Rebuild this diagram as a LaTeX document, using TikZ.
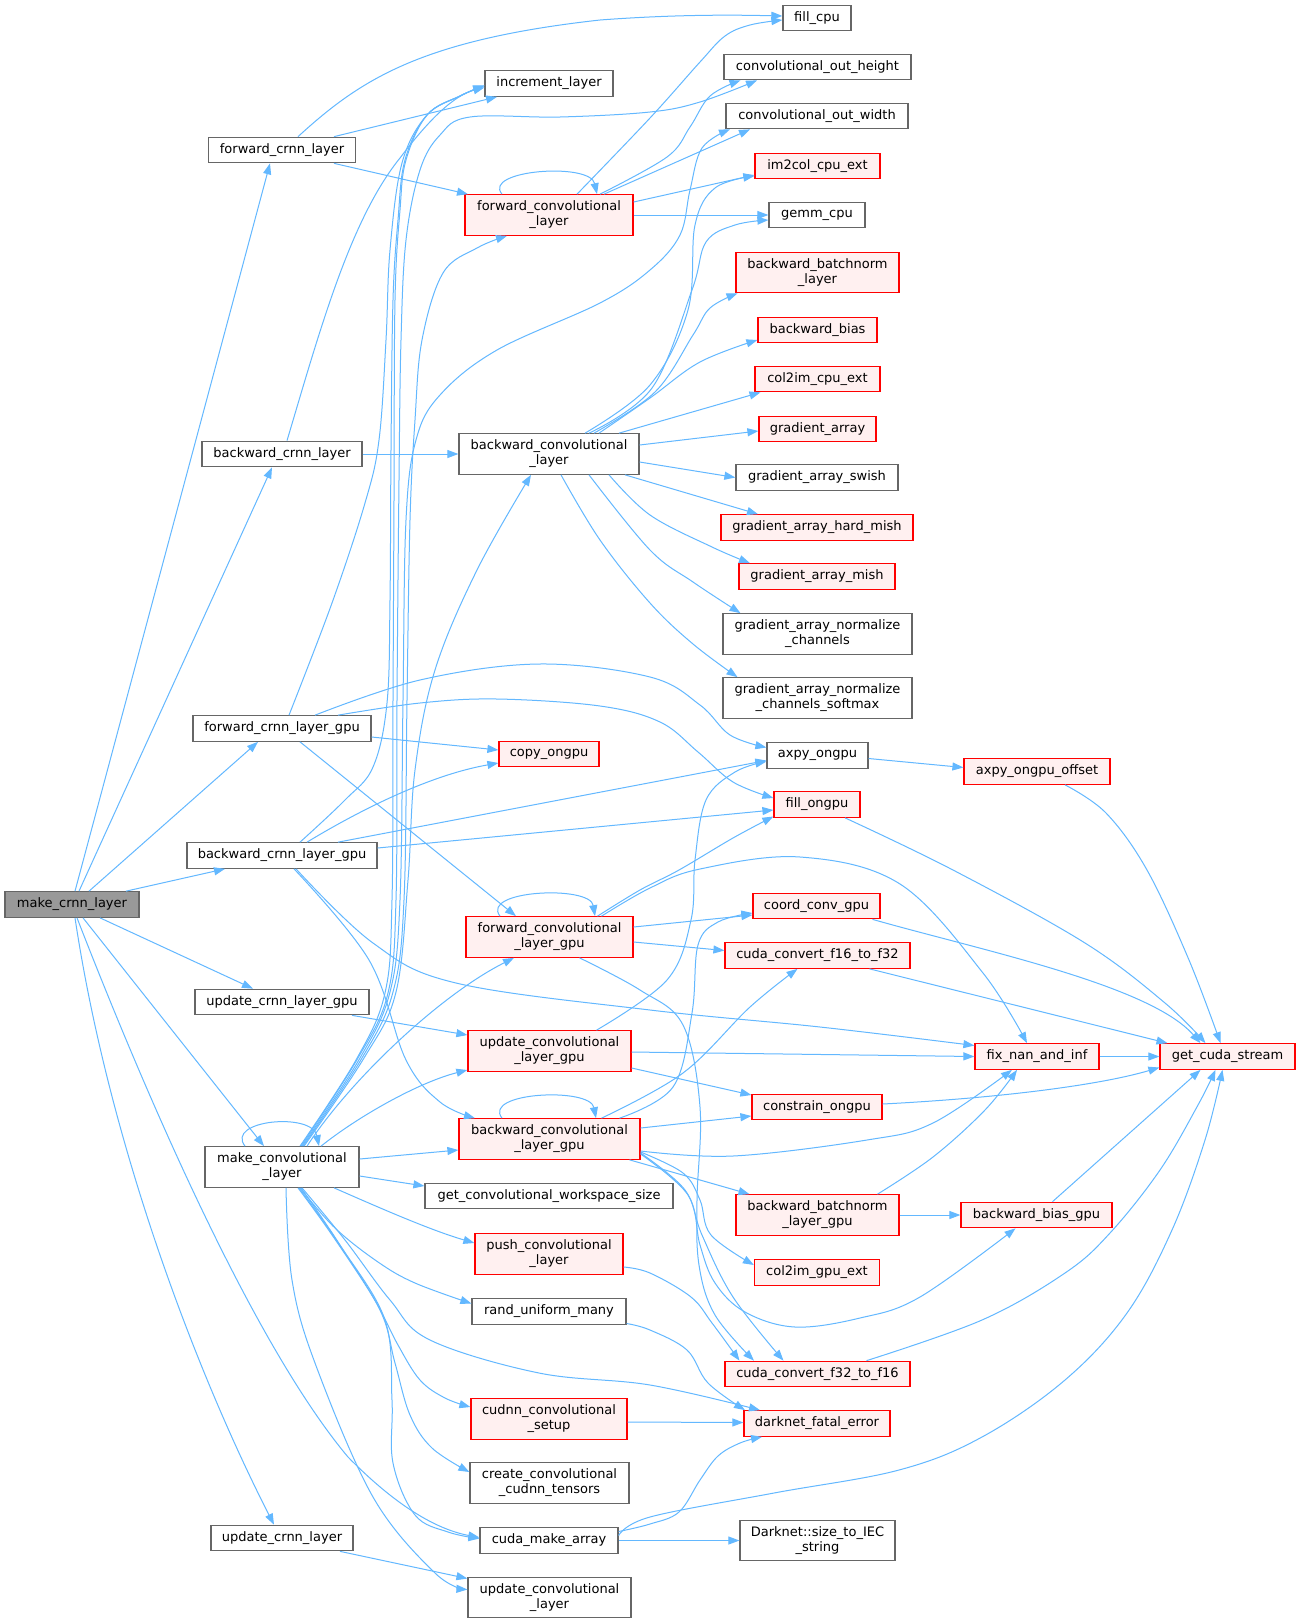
\documentclass[tikz,border=0pt]{standalone}
\usepackage{fontspec}
\setmainfont{DejaVu Sans}
\usetikzlibrary{arrows.meta,calc}
\definecolor{ngrey}{HTML}{666666}
\definecolor{pinkbg}{HTML}{FFF0F0}
\definecolor{rootgrey}{HTML}{999999}
\definecolor{eblue}{HTML}{63B8FF}
\tikzset{
 nd/.style={draw=ngrey, fill=white, line width=1.2pt, inner sep=0pt, minimum height=25.5pt, align=center, font=\fontsize{13}{15}\selectfont, text=black},
 rdn/.style={nd, draw=red, fill=pinkbg},
 rootn/.style={nd, fill=rootgrey},
 two/.style={minimum height=40.5pt},
 cl/.style={draw=eblue, line width=1pt, -{Triangle[length=11pt,width=8pt]}},
}
\begin{document}
\begin{tikzpicture}[x=1pt,y=-1pt]
\useasboundingbox (0,0) rectangle (1300,1623);
\fill[white] (0,0) rectangle (1300,1623);
% nodes
\node[rootn,minimum width=134pt] (M) at (72,904.5) {make\_crnn\_layer};
\node[nd,minimum width=147pt] (F) at (282,150) {forward\_crnn\_layer};
\node[nd,minimum width=160pt] (B) at (282,454) {backward\_crnn\_layer};
\node[nd,minimum width=178pt] (FG) at (282,728.5) {forward\_crnn\_layer\_gpu};
\node[nd,minimum width=190pt] (BG) at (282,855.5) {backward\_crnn\_layer\_gpu};
\node[nd,minimum width=174pt] (UG) at (282,1002) {update\_crnn\_layer\_gpu};
\node[nd,two,minimum width=154pt] (MC) at (282,1167) {make\_convolutional\\\_layer};
\node[nd,minimum width=142pt] (U) at (282,1538) {update\_crnn\_layer};
\node[nd,minimum width=128pt] (INC) at (549,83.5) {increment\_layer};
\node[rdn,two,minimum width=168pt] (FC) at (549,215) {forward\_convolutional\\\_layer};
\node[nd,two,minimum width=180pt] (BC) at (549,454) {backward\_convolutional\\\_layer};
\node[rdn,minimum width=100pt] (CP) at (549,754) {copy\_ongpu};
\node[rdn,two,minimum width=167pt] (FCG) at (549.5,937) {forward\_convolutional\\\_layer\_gpu};
\node[rdn,two,minimum width=163pt] (UCG) at (549.5,1051) {update\_convolutional\\\_layer\_gpu};
\node[rdn,two,minimum width=181pt] (BCG) at (549.5,1139) {backward\_convolutional\\\_layer\_gpu};
\node[nd,minimum width=248pt] (WS) at (549,1196) {get\_convolutional\_workspace\_size};
\node[rdn,two,minimum width=148pt] (PUSH) at (549,1254) {push\_convolutional\\\_layer};
\node[nd,minimum width=154pt] (RU) at (549,1311.5) {rand\_uniform\_many};
\node[rdn,two,minimum width=156pt] (CS) at (549,1419) {cudnn\_convolutional\\\_setup};
\node[nd,two,minimum width=159pt] (CT) at (549.5,1483) {create\_convolutional\\\_cudnn\_tensors};
\node[nd,minimum width=138pt] (CMA) at (549,1540.5) {cuda\_make\_array};
\node[nd,two,minimum width=163pt] (UCL) at (549.5,1597.5) {update\_convolutional\\\_layer};
\node[nd,minimum width=68pt] (FILL) at (817,18) {fill\_cpu};
\node[nd,minimum width=187pt] (OH) at (817.5,67) {convolutional\_out\_height};
\node[nd,minimum width=182pt] (OW) at (817,116) {convolutional\_out\_width};
\node[rdn,minimum width=125pt] (IM) at (817.5,166) {im2col\_cpu\_ext};
\node[nd,minimum width=96pt] (GEMM) at (817,215) {gemm\_cpu};
\node[rdn,two,minimum width=163pt] (BBN) at (817.5,272.5) {backward\_batchnorm\\\_layer};
\node[rdn,minimum width=119pt] (BB) at (817.5,330) {backward\_bias};
\node[rdn,minimum width=125pt] (C2I) at (817.5,379) {col2im\_cpu\_ext};
\node[rdn,minimum width=117pt] (GA) at (817.5,429) {gradient\_array};
\node[nd,minimum width=162pt] (GAS) at (817,477.5) {gradient\_array\_swish};
\node[rdn,minimum width=192pt] (GAH) at (817,527.5) {gradient\_array\_hard\_mish};
\node[rdn,minimum width=156pt] (GAM) at (817,576.5) {gradient\_array\_mish};
\node[nd,two,minimum width=189pt] (GAN) at (817.5,634) {gradient\_array\_normalize\\\_channels};
\node[nd,two,minimum width=189pt] (GANS) at (817.5,698) {gradient\_array\_normalize\\\_channels\_softmax};
\node[nd,minimum width=101pt] (AX) at (817.5,755.5) {axpy\_ongpu};
\node[rdn,minimum width=86pt] (FO) at (817,804.5) {fill\_ongpu};
\node[rdn,minimum width=127pt] (CC) at (816.5,906) {coord\_conv\_gpu};
\node[rdn,minimum width=185pt] (F16) at (817.5,955.5) {cuda\_convert\_f16\_to\_f32};
\node[rdn,minimum width=130pt] (CON) at (817,1107) {constrain\_ongpu};
\node[rdn,two,minimum width=163pt] (BBNG) at (817.5,1215) {backward\_batchnorm\\\_layer\_gpu};
\node[rdn,minimum width=125pt] (C2G) at (817,1272.5) {col2im\_gpu\_ext};
\node[rdn,minimum width=185pt] (F32) at (817.5,1374) {cuda\_convert\_f32\_to\_f16};
\node[rdn,minimum width=146pt] (DFE) at (817,1423.5) {darknet\_fatal\_error};
\node[nd,two,minimum width=155pt] (IEC) at (817.5,1540.5) {Darknet::size\_to\_IEC\\\_string};
\node[rdn,minimum width=146pt] (AXO) at (1037,771.5) {axpy\_ongpu\_offset};
\node[rdn,minimum width=124pt] (FIX) at (1037,1056.5) {fix\_nan\_and\_inf};
\node[rdn,minimum width=151pt] (BBG) at (1036.5,1215) {backward\_bias\_gpu};
\node[rdn,minimum width=135pt] (GCS) at (1227.5,1056.5) {get\_cuda\_stream};

% make_crnn_layer
\draw[cl] ($(M.north)+(3,0)$) -- ($(F.south)+(-12,0)$);
\draw[cl] ($(M.north)+(7,0)$) -- ($(B.south)+(-10,0)$);
\draw[cl] ($(M.north)+(17,0)$) -- ($(FG.south)+(-24,0)$);
\draw[cl] ($(M.north)+(54,0)$) -- ($(BG.south)+(-57,0)$);
\draw[cl] ($(M.south)+(28,0)$) -- ($(UG.north)+(-29,0)$);
\draw[cl] ($(M.south)+(11,0)$) -- ($(MC.north)+(-18,0)$);
\draw[cl] ($(M.south)+(3,0)$) .. controls (110,1150) and (200,1380) .. ($(U.north)+(-8,0)$);
\draw[cl] ($(M.south)+(5,0)$) .. controls (140,1080) and (250,1340) .. (348,1457) .. controls (400,1510) and (440,1530) .. ($(CMA.west)+(0,-3)$);

% forward_crnn_layer
\draw[cl] ($(F.north)+(16,0)$) .. controls (360,80) and (420,40) .. (600,20) .. controls (680,14) and (740,15) .. ($(FILL.west)+(0,-2)$);
\draw[cl] ($(F.north)+(52,0)$) -- ($(INC.south)+(-52,0)$);
\draw[cl] ($(F.south)+(52,0)$) -- ($(FC.north)+(-81,0)$);

% backward_crnn_layer
\draw[cl] ($(B.north)+(5,0)$) .. controls (320,330) and (350,220) .. (400,158) .. controls (430,118) and (455,95) .. ($(INC.west)+(0,4)$);
\draw[cl] (B.east) -- (BC.west);

% forward_crnn_layer_gpu
\draw[cl] plot[smooth,tension=0.6] coordinates {($(FG.north)+(7,0)$) (332,603) (365,503) (379,440) (386,340) (390,250) (402,163) (427,115) (460,96) ($(INC.west)+(0,2)$)};
\draw[cl] ($(FG.east)+(0,8.5)$) -- ($(CP.west)+(0,-4)$);
\draw[cl] plot[smooth,tension=0.6] coordinates {($(FG.north)+(33,0)$) (420,680) (539,664) (650,677) (700,705) (730,735) ($(AX.west)+(0,-8)$)};
\draw[cl] plot[smooth,tension=0.6] coordinates {($(FG.north)+(56,0)$) (420,703) (497,699) (600,706) (660,722) (698,752) (733,782) ($(FO.west)+(0,-6.5)$)};
\draw[cl] ($(FG.south)+(18,0)$) -- ($(FCG.north)+(-33.5,0)$);

% backward_crnn_layer_gpu
\draw[cl] plot[smooth,tension=0.6] coordinates {($(BG.north)+(18,0)$) (345,800) (373,767) (387,703) (390,600) (391,450) (393,300) (398,220) (405,160) (427,115) (460,96) ($(INC.west)+(0,2)$)};
\draw[cl] ($(BG.north)+(25,0)$) .. controls (360,810) and (430,775) .. ($(CP.west)+(0,9)$);
\draw[cl] ($(BG.north)+(56,0)$) -- ($(AX.west)+(0,5)$);
\draw[cl] ($(BG.east)+(0,-7.5)$) -- ($(FO.west)+(0,5.5)$);
\draw[cl] plot[smooth,tension=0.6] coordinates {($(BG.south)+(14,0)$) (373,943) (456,983) (650,1010) (820,1027) ($(FIX.west)+(0,-11)$)};
\draw[cl] plot[smooth,tension=0.6] coordinates {($(BG.south)+(12,0)$) (369,960) (406,1060) (440,1102) ($(BCG.north)+(-74.5,0)$)};

% update_crnn_layer_gpu
\draw[cl] ($(UG.south)+(70,0)$) -- ($(UCG.west)+(0,-16)$);

% make_convolutional_layer
\draw[cl] ($(MC.north)+(-37,0)$) .. controls (225,1120) and (312,1112) .. ($(MC.north)+(37,0)$);
\draw[cl] plot[smooth,tension=0.6] coordinates {($(MC.north)+(18,0)$) (356,1060) (385,993) (392,900) (393,700) (394,500) (395,300) (400,210) (406,160) (427,115) (460,96) ($(INC.west)+(0,2)$)};
\draw[cl] plot[smooth,tension=0.6] coordinates {($(MC.north)+(19,0)$) (358,1058) (388,993) (396,900) (397,700) (399,480) (401,340) (406,240) (420,170) (440,135) (470,117) (560,117) (650,112) (700,102) ($(OH.south)+(-60.5,0)$)};
\draw[cl] plot[smooth,tension=0.6] coordinates {($(MC.north)+(20,0)$) (360,1058) (390,992) (400,900) (403,700) (406,520) (416,440) (440,395) (497,350) (600,303) (650,270) (680,235) (690,190) (702,148) ($(OW.south)+(-87,0)$)};
\draw[cl] plot[smooth,tension=0.6] coordinates {($(MC.north)+(21,0)$) (362,1058) (393,992) (404,900) (407,700) (410,520) (415,420) (422,340) (443,273) (477,248) ($(FC.south)+(-42,0)$)};
\draw[cl] plot[smooth,tension=0.6] coordinates {($(MC.north)+(22,0)$) (364,1058) (396,992) (408,880) (415,770) (435,670) (477,570) ($(BC.south)+(-18,0)$)};
\draw[cl] ($(MC.north)+(25,0)$) .. controls (350,1080) and (440,995) .. ($(FCG.south)+(-35.5,0)$);
\draw[cl] ($(MC.north)+(39,0)$) .. controls (360,1115) and (420,1082) .. ($(UCG.west)+(0,19)$);
\draw[cl] ($(MC.east)+(0,-8)$) -- ($(BCG.west)+(0,11)$);
\draw[cl] ($(MC.east)+(0,9)$) -- ($(WS.west)+(0,-10)$);
\draw[cl] ($(MC.south)+(52,0)$) .. controls (380,1208) and (430,1230) .. ($(PUSH.west)+(0,-11)$);
\draw[cl] plot[smooth,tension=0.6] coordinates {($(MC.south)+(18,0)$) (335,1228) (378,1262) (415,1283) ($(RU.west)+(0,-8)$)};
\draw[cl] plot[smooth,tension=0.6] coordinates {($(MC.south)+(16,0)$) (330,1232) (373,1297) (398,1345) (420,1380) (445,1398) ($(CS.west)+(0,-12)$)};
\draw[cl] plot[smooth,tension=0.6] coordinates {($(MC.south)+(17,0)$) (335,1238) (380,1310) (395,1363) (410,1415) (432,1448) ($(CT.west)+(0,-11)$)};
\draw[cl] plot[smooth,tension=0.6] coordinates {($(MC.south)+(19,0)$) (340,1245) (385,1320) (392,1400) (393,1463) (415,1515) (448,1532) ($(CMA.west)+(0,-2)$)};
\draw[cl] plot[smooth,tension=0.6] coordinates {($(MC.south)+(4,0)$) (292,1280) (315,1363) (373,1497) (435,1573) ($(UCL.west)+(0,-8)$)};
\draw[cl] plot[smooth,tension=0.6] coordinates {($(MC.south)+(20,0)$) (345,1240) (390,1300) (430,1340) (539,1373) (650,1385) ($(DFE.north)+(-57,0)$)};

% update_crnn_layer
\draw[cl] ($(U.south)+(58,0)$) -- ($(UCL.west)+(0,-19)$);

% forward_convolutional_layer
\draw[cl] ($(FC.north)+(-47,0)$) .. controls (482,170) and (590,162) .. ($(FC.north)+(48,0)$);
\draw[cl] plot[smooth,tension=0.6] coordinates {($(FC.north)+(28,0)$) (650,118) (700,62) (725,36) (750,25) ($(FILL.west)+(0,2)$)};
\draw[cl] plot[smooth,tension=0.6] coordinates {($(FC.north)+(51,0)$) (667,157) (690,127) (710,96) ($(OH.south)+(-77,0)$)};
\draw[cl] ($(FC.north)+(55,0)$) -- ($(OW.south)+(-67,0)$);
\draw[cl] ($(FC.east)+(0,-13)$) -- ($(IM.west)+(0,9)$);
\draw[cl] (FC.east) -- (GEMM.west);

% backward_convolutional_layer
\draw[cl] plot[smooth,tension=0.6] coordinates {($(BC.north)+(36,0)$) (650,385) (688,310) (695,225) (715,188) ($(IM.west)+(0,10)$)};
\draw[cl] plot[smooth,tension=0.6] coordinates {($(BC.north)+(40,0)$) (652,388) (692,290) (706,242) (735,225) ($(GEMM.west)+(0,5)$)};
\draw[cl] plot[smooth,tension=0.6] coordinates {($(BC.north)+(45,0)$) (655,392) (693,335) (710,308) ($(BBN.south)+(-80,0)$)};
\draw[cl] plot[smooth,tension=0.6] coordinates {($(BC.north)+(50,0)$) (650,398) (700,362) ($(BB.west)+(0,10)$)};
\draw[cl] ($(BC.north)+(70,0)$) -- ($(C2I.south)+(-57,0)$);
\draw[cl] ($(BC.east)+(0,-9)$) -- ($(GA.west)+(0,2)$);
\draw[cl] ($(BC.east)+(0,8)$) -- (GAS.west);
\draw[cl] ($(BC.south)+(76,0)$) -- ($(GAH.north)+(-59,0)$);
\draw[cl] plot[smooth,tension=0.6] coordinates {($(BC.south)+(60,0)$) (650,515) (712,547) ($(GAM.north)+(-67,0)$)};
\draw[cl] plot[smooth,tension=0.6] coordinates {($(BC.south)+(40,0)$) (650,550) (693,582) ($(GAN.north)+(-77,0)$)};
\draw[cl] plot[smooth,tension=0.6] coordinates {($(BC.south)+(12,0)$) (600,540) (650,603) (693,644) ($(GANS.north)+(-80,0)$)};

% forward_convolutional_layer_gpu
\draw[cl] ($(FCG.north)+(-49.5,0)$) .. controls (480,890) and (590,885) .. ($(FCG.north)+(45.5,0)$);
\draw[cl] plot[smooth,tension=0.6] coordinates {($(FCG.north)+(48,0)$) (640,890) (679,870) (733,838) ($(FO.west)+(0,12)$)};
\draw[cl] plot[smooth,tension=0.6] coordinates {($(FCG.north)+(52,0)$) (650,888) (700,869) (800,857) (900,884) (983,973) ($(FIX.north)+(-10,0)$)};
\draw[cl] ($(FCG.east)+(0,-10)$) -- ($(CC.west)+(0,9)$);
\draw[cl] ($(FCG.east)+(0,5)$) -- ($(F16.west)+(0,-5)$);
\draw[cl] plot[smooth,tension=0.6] coordinates {($(FCG.south)+(30,0)$) (640,990) (683,1025) (700,1107) (697,1200) (699,1265) (715,1315) ($(F32.north)+(-63.5,0)$)};

% update_convolutional_layer_gpu
\draw[cl] plot[smooth,tension=0.6] coordinates {($(UCG.north)+(47,0)$) (667,980) (691,920) (695,860) (706,800) (735,772) ($(AX.west)+(0,6)$)};
\draw[cl] ($(UCG.east)+(0,1)$) -- (FIX.west);
\draw[cl] ($(UCG.east)+(0,17)$) -- ($(CON.west)+(0,-12)$);

% backward_convolutional_layer_gpu
\draw[cl] ($(BCG.north)+(-47.5,0)$) .. controls (482,1092) and (590,1087) .. ($(BCG.north)+(46.5,0)$);
\draw[cl] plot[smooth,tension=0.6] coordinates {($(BCG.north)+(70,0)$) (673,1087) (692,1013) (698,945) (718,922) ($(CC.west)+(0,7)$)};
\draw[cl] plot[smooth,tension=0.6] coordinates {($(BCG.north)+(52,0)$) (683,1073) (750,1007) ($(F16.south)+(-20,0)$)};
\draw[cl] ($(BCG.east)+(0,-11)$) -- ($(CON.west)+(0,9)$);
\draw[cl] plot[smooth,tension=0.6] coordinates {($(BCG.east)+(0,12)$) (733,1156) (867,1140) (933,1123) ($(FIX.south)+(-25,0)$)};
\draw[cl] ($(BCG.south)+(80,0)$) -- ($(BBNG.north)+(-68,0)$);
\draw[cl] plot[smooth,tension=0.6] coordinates {($(BCG.east)+(0,13)$) (683,1173) (700,1200) (711,1235) ($(C2G.west)+(0,-7.5)$)};
\draw[cl] plot[smooth,tension=0.6] coordinates {($(BCG.east)+(0,14)$) (685,1190) (702,1235) (733,1297) ($(F32.north)+(-34,0)$)};
\draw[cl] plot[smooth,tension=0.6] coordinates {($(BCG.east)+(0,15)$) (688,1195) (700,1245) (715,1283) (745,1312) (795,1327) (860,1318) (920,1297) ($(BBG.south)+(-21,0)$)};

% backward_batchnorm_layer_gpu and others
\draw[cl] plot[smooth,tension=0.6] coordinates {($(BBNG.north)+(60,0)$) (933,1157) (985,1110) ($(FIX.south)+(-20,0)$)};
\draw[cl] (BBNG.east) -- (BBG.west);
\draw[cl] ($(BBG.north)+(16,0)$) -- ($(GCS.south)+(-27,0)$);
\draw[cl] ($(AX.east)+(0,3)$) -- ($(AXO.west)+(0,-4)$);
\draw[cl] plot[smooth,tension=0.6] coordinates {($(AXO.south)+(28,0)$) (1106,813) (1147,870) (1189,960) ($(GCS.north)+(-7,0)$)};
\draw[cl] plot[smooth,tension=0.6] coordinates {($(FO.south)+(28,0)$) (953,870) (1085,943) (1165,1003) ($(GCS.north)+(-22,0)$)};
\draw[cl] ($(CC.south)+(56,0)$) .. controls (980,950) and (1150,985) .. ($(GCS.north)+(-27,0)$);
\draw[cl] ($(F16.south)+(52,0)$) -- ($(GCS.north)+(-60,0)$);
\draw[cl] (FIX.east) -- (GCS.west);
\draw[cl] ($(CON.east)+(0,-3)$) .. controls (1000,1098) and (1100,1085) .. ($(GCS.west)+(0,11)$);
\draw[cl] plot[smooth,tension=0.6] coordinates {($(F32.north)+(49,0)$) (982,1320) (1065,1273) (1110,1233) (1160,1170) (1198,1105) ($(GCS.south)+(-12,0)$)};
\draw[cl] plot[smooth,tension=0.6] coordinates {($(CMA.east)+(0,-5)$) (650,1517) (774,1493) (899,1470) (982,1437) (1065,1380) (1127,1313) (1172,1230) (1205,1140) ($(GCS.south)+(-5,0)$)};
\draw[cl] plot[smooth,tension=0.6] coordinates {($(CMA.east)+(0,-9)$) (650,1524) (679,1512) (700,1480) (718,1456) (740,1443) ($(DFE.south)+(-55,0)$)};
\draw[cl] (CMA.east) -- (IEC.west);
\draw[cl] plot[smooth,tension=0.6] coordinates {($(PUSH.east)+(0,13)$) (650,1273) (691,1297) (712,1323) ($(F32.north)+(-78,0)$)};
\draw[cl] plot[smooth,tension=0.6] coordinates {($(RU.east)+(0,12)$) (650,1330) (687,1350) (708,1383) ($(DFE.north)+(-72,0)$)};
\draw[cl] ($(CS.east)+(0,3)$) -- ($(DFE.west)+(0,-1)$);
\end{tikzpicture}
\end{document}
